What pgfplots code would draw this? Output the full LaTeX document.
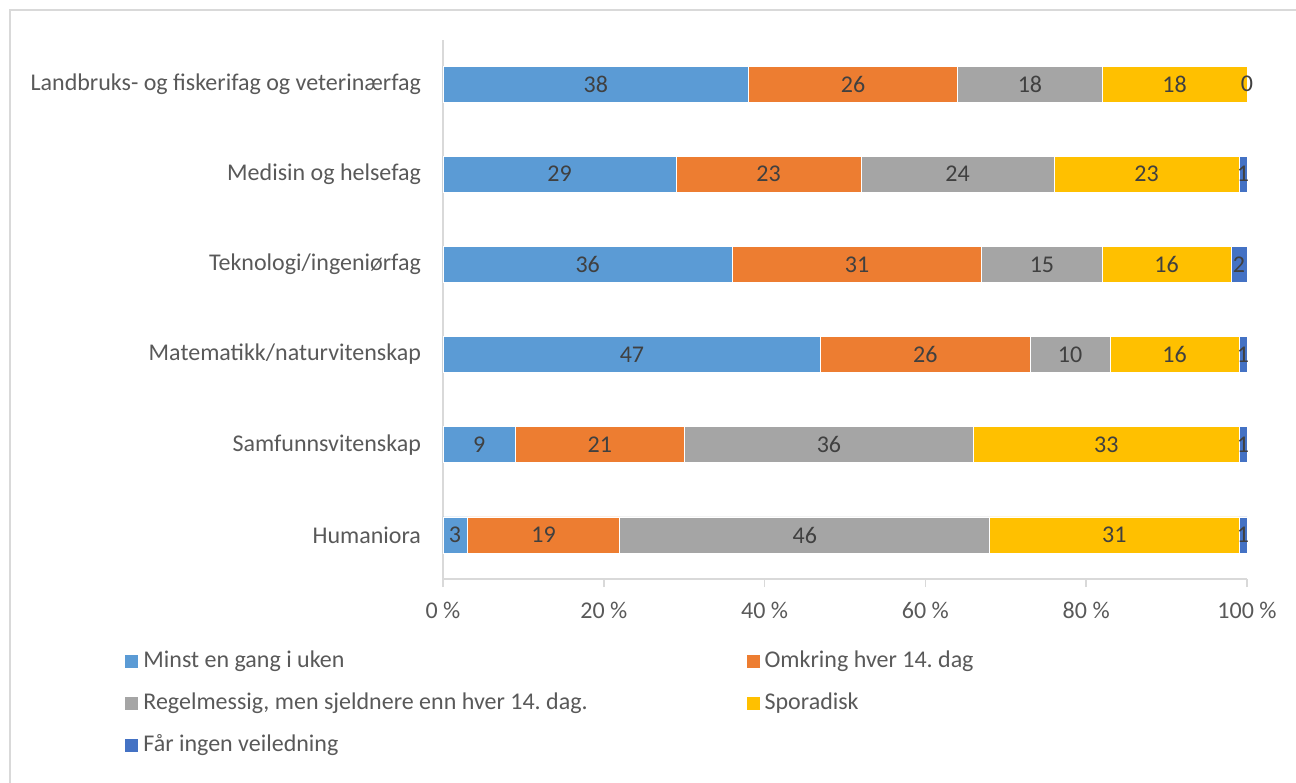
\documentclass[border=0pt]{standalone}
\usepackage{fontspec}
\setmainfont{Carlito}
\usepackage{pgfplots}
\pgfplotsset{compat=1.18}
\usepackage{pgfplotstable}

\definecolor{s1}{HTML}{5B9BD5}
\definecolor{s2}{HTML}{ED7D31}
\definecolor{s3}{HTML}{A5A5A5}
\definecolor{s4}{HTML}{FFC000}
\definecolor{s5}{HTML}{4472C4}
\definecolor{txt}{HTML}{595959}
\definecolor{lbl}{HTML}{404040}
\definecolor{rulegray}{HTML}{D9D9D9}

% y: 0 = Humaniora (bottom) ... 5 = Landbruks (top)
\pgfplotstableread{
y a  b  c  d  e
0 3  19 46 31 1
1 9  21 36 33 1
2 47 26 10 16 1
3 36 31 15 16 2
4 29 23 24 23 1
5 38 26 18 18 0
}\shares

\pgfplotsset{
  seg/.style={
    fill=#1, draw=white, line width=0.4pt,
  },
}

\begin{document}
\frenchspacing
\begin{tikzpicture}
\useasboundingbox (0,0) rectangle (648pt,391pt);
\draw[rulegray, line width=0.8pt] (5pt,-20pt) -- (5pt,386pt) -- (670pt,386pt);
\begin{axis}[
  at={(221.5pt,101.5pt)}, anchor=south west,
  scale only axis, width=402pt, height=269.5pt,
  xbar stacked, bar width=18pt, clip=false,
  xmin=0, xmax=100, ymin=-0.488, ymax=5.488,
  axis x line*=bottom, axis y line*=left,
  axis line style={draw=rulegray, line width=0.8pt, -},
  xtick={0,20,...,100},
  xticklabel={\pgfmathprintnumber[assume math mode=true]{\tick}~\%},
  xtick style={draw=rulegray, line width=0.8pt},
  tick align=outside, major tick length=4pt,
  ytick={0,...,5},
  yticklabels={Humaniora, Samfunnsvitenskap, Matematikk/naturvitenskap,
    Teknologi/ingeniørfag, Medisin og helsefag,
    Landbruks- og fiskerifag og veterinærfag},
  ytick style={draw=none},
  ticklabel style={font=\fontsize{12}{14}\selectfont, text=txt},
  yticklabel style={xshift=-3.5pt},
  xticklabel style={yshift=-4pt},
  point meta=explicit,
  nodes near coords={\pgfmathprintnumber[assume math mode=true]{\pgfplotspointmeta}},
  every node near coord/.append style={anchor=center,
    text=lbl, font=\fontsize{12}{14}\selectfont},
  legend columns=2,
  legend cell align=left,
  legend image code/.code={\fill[#1, draw=none] (0pt,-3.2pt) rectangle (6.5pt,3.2pt);},
  legend style={draw=none, fill=none, at={(-0.3955,-0.1299)}, anchor=north west,
    inner sep=0pt, row sep=9pt,
    nodes={inner sep=0pt, text height=9pt, text depth=3pt,
      font=\fontsize{12}{14}\selectfont, text=txt},
    /tikz/every odd column/.style={column sep=2.5pt},
    /tikz/every even column/.style={column sep=79.5pt},
  },
]
\addplot[seg=s1] table[x=a, y=y, meta=a] {\shares};
\addplot[seg=s2] table[x=b, y=y, meta=b] {\shares};
\addplot[seg=s3] table[x=c, y=y, meta=c] {\shares};
\addplot[seg=s4] table[x=d, y=y, meta=d] {\shares};
\addplot[seg=s5] table[x=e, y=y, meta=e] {\shares};
% zero-length segment gets no label from nodes near coords
\coordinate (zeroseg) at (axis cs:100,5);
\legend{Minst en gang i uken, Omkring hver 14. dag,
  {Regelmessig, men sjeldnere enn hver 14. dag.}, Sporadisk,
  Får ingen veiledning}
\end{axis}
\node[text=lbl, font=\fontsize{12}{14}\selectfont] at (zeroseg) {0};
\end{tikzpicture}
\end{document}
